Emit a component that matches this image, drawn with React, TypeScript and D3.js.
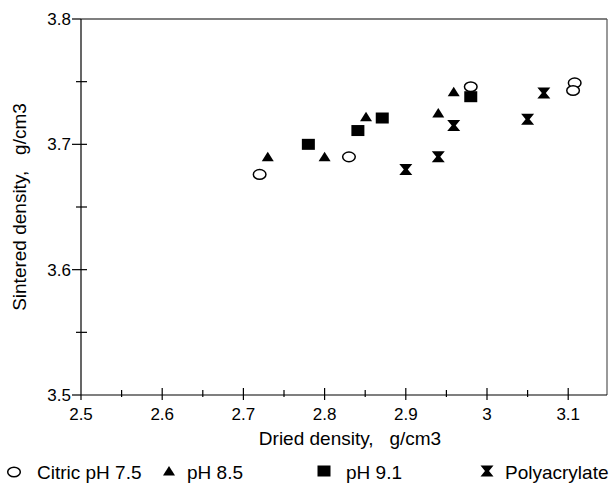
import React from "react";
import * as d3 from "d3";

const citricX = [2.72, 2.83, 2.98, 3.108, 3.106];
const citricY = [3.676, 3.69, 3.746, 3.749, 3.743];
const ph85X = [2.73, 2.80, 2.851, 2.94, 2.959];
const ph85Y = [3.69, 3.69, 3.722, 3.725, 3.742];
const ph91X = [2.78, 2.841, 2.871, 2.98];
const ph91Y = [3.70, 3.711, 3.721, 3.738];
const polyX = [2.90, 2.94, 2.959, 3.05, 3.07];
const polyY = [3.680, 3.69, 3.715, 3.72, 3.741];

const xTicks = [2.5, 2.6, 2.7, 2.8, 2.9, 3, 3.1];
const xMinor = [2.55, 2.65, 2.75, 2.85, 2.95, 3.05];
const yTicks = [3.5, 3.6, 3.7, 3.8];
const yMinor = [3.55, 3.65, 3.75];

const L = 81, R = 607, T = 19, B = 395;
const x = d3.scaleLinear().domain([2.5, 3.15]).range([L, L + 0.65 * 812]);
const y = d3.scaleLinear().domain([3.5, 3.8]).range([B, T]);

const font = "Arial, 'Liberation Sans', sans-serif";

function Circle({ cx, cy }: { cx: number; cy: number }) {
  return <ellipse cx={cx} cy={cy} rx={6.3} ry={4.8} fill="white" stroke="black" strokeWidth={1.5} />;
}
function Tri({ cx, cy }: { cx: number; cy: number }) {
  return <path d={`M${cx},${cy - 5} L${cx + 6},${cy + 4.5} L${cx - 6},${cy + 4.5}Z`} fill="black" />;
}
function Sq({ cx, cy }: { cx: number; cy: number }) {
  return <rect x={cx - 6.5} y={cy - 5.5} width={13} height={11} fill="black" />;
}
function Bow({ cx, cy }: { cx: number; cy: number }) {
  return (
    <path d={`M${cx - 6.5},${cy - 5.5} L${cx + 6.5},${cy - 5.5} L${cx + 2},${cy} L${cx + 6.5},${cy + 5.5} L${cx - 6.5},${cy + 5.5} L${cx - 2},${cy}Z`} fill="black" />
  );
}

export default function App() {
  return (
    <svg width={612} height={484} style={{ position: "absolute", left: 0, top: 0, background: "white" }}>
      <rect x={0} y={0} width={612} height={484} fill="white" />
      {/* frame */}
      <line x1={L} y1={T} x2={R} y2={T} stroke="black" strokeWidth={1.2} />
      <line x1={R} y1={T} x2={R} y2={B} stroke="#555" strokeWidth={1.2} />
      <line x1={L} y1={T} x2={L} y2={B} stroke="black" strokeWidth={1.2} />
      <line x1={L} y1={B} x2={R} y2={B} stroke="black" strokeWidth={1.2} />
      {/* y ticks */}
      {yTicks.map((v) => (
        <g key={"yt" + v}>
          <line x1={L - 9} x2={v === 3.8 || v === 3.5 ? L : L + 6} y1={y(v)} y2={y(v)} stroke="black" strokeWidth={1.2} />
          <text x={L - 10} y={y(v)} dy="0.36em" textAnchor="end" fontFamily={font} fontSize={17}>{v.toFixed(1)}</text>
        </g>
      ))}
      {yMinor.map((v) => (
        <line key={"ym" + v} x1={L - 5} x2={L + 6} y1={y(v)} y2={y(v)} stroke="black" strokeWidth={1.2} />
      ))}
      {/* x ticks */}
      {xTicks.map((v) => (
        <g key={"xt" + v}>
          <line x1={x(v)} x2={x(v)} y1={v === 2.5 ? B : B - 7} y2={B + 5} stroke="black" strokeWidth={1.2} />
          <text x={x(v)} y={B + 25} textAnchor="middle" fontFamily={font} fontSize={17}>{String(v)}</text>
        </g>
      ))}
      {xMinor.map((v) => (
        <line key={"xm" + v} x1={x(v)} x2={x(v)} y1={B - 5} y2={B + 2} stroke="black" strokeWidth={1.2} />
      ))}
      {/* axis titles */}
      <text x={350} y={445} textAnchor="middle" fontFamily={font} fontSize={19} style={{ whiteSpace: "pre" }}>{"Dried density,   g/cm3"}</text>
      <text transform={`translate(26,207) rotate(-90)`} textAnchor="middle" fontFamily={font} fontSize={19} style={{ whiteSpace: "pre" }}>{"Sintered density,   g/cm3"}</text>
      {/* data */}
      {ph91X.map((v, i) => <Sq key={"s" + i} cx={x(v)} cy={y(ph91Y[i])} />)}
      {ph85X.map((v, i) => <Tri key={"t" + i} cx={x(v)} cy={y(ph85Y[i])} />)}
      {polyX.map((v, i) => <Bow key={"b" + i} cx={x(v)} cy={y(polyY[i])} />)}
      {citricX.map((v, i) => <Circle key={"c" + i} cx={x(v)} cy={y(citricY[i])} />)}
      {/* legend */}
      <g fontFamily={font} fontSize={19}>
        <Circle cx={14} cy={472} />
        <text x={37} y={479}>Citric pH 7.5</text>
        <Tri cx={169} cy={471} />
        <text x={187} y={479}>pH 8.5</text>
        <Sq cx={324} cy={471} />
        <text x={346} y={479}>pH 9.1</text>
        <Bow cx={487} cy={471} />
        <text x={505} y={479}>Polyacrylate</text>
      </g>
    </svg>
  );
}
